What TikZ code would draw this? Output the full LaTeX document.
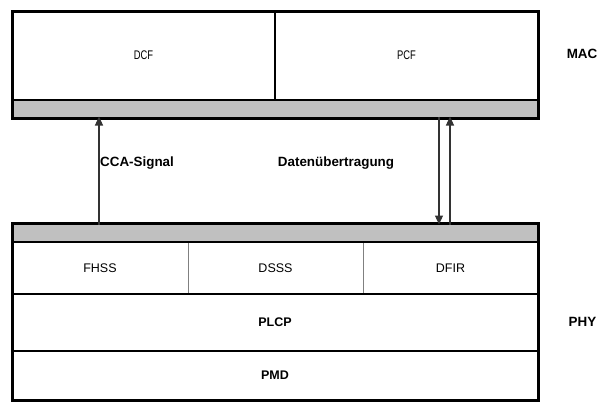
\documentclass[tikz,border=0pt]{standalone}
\usepackage{fontspec}
\setmainfont{Liberation Sans}
\usetikzlibrary{arrows.meta}
\definecolor{bargray}{HTML}{C0C0C0}
\definecolor{divgray}{HTML}{808080}
\definecolor{arrgray}{HTML}{333333}
\tikzset{
  cell/.style={inner sep=0pt, outer sep=0pt, font=\fontsize{12.5}{14}\selectfont},
  bar/.style={inner sep=0pt, outer sep=0pt, fill=bargray, minimum width=526pt},
  lbl/.style={inner sep=0pt, font=\bfseries\fontsize{13.4}{15}\selectfont},
  frame/.style={line width=3pt},
  sep/.style={line width=2.5pt},
  thindiv/.style={line width=1pt, divgray},
  arr/.style={line width=1.1pt, arrgray, -{Triangle[width=8pt,length=9pt]}}
}
\begin{document}
\begin{tikzpicture}[x=1pt,y=-1pt]
\useasboundingbox (0,0) rectangle (599,402);
% MAC block
\node[cell, minimum width=263pt, minimum height=89pt] (dcf) at (143.5,55.5) {\scalebox{0.75}[1]{DCF}};
\node[cell, minimum width=263pt, minimum height=89pt] (pcf) at (406.5,55.5) {\scalebox{0.75}[1]{PCF}};
\node[bar, minimum height=18pt] (macbar) at (275,109) {};
\draw[sep] (macbar.north west) -- (macbar.north east);
\draw[line width=2pt] (dcf.north east) -- (dcf.south east);
\draw[frame] (12,11) rectangle (538,118);
% PHY block
\node[bar, minimum height=19pt] (phybar) at (275,232.5) {};
\node[cell, minimum width=176pt, minimum height=52pt] (fhss) at (100,268) {FHSS};
\node[cell, minimum width=175pt, minimum height=52pt] (dsss) at (275.5,268) {DSSS};
\node[cell, minimum width=175pt, minimum height=52pt] (dfir) at (450.5,268) {DFIR};
\node[cell, font=\bfseries\fontsize{12.5}{14}\selectfont, minimum width=526pt, minimum height=57pt] (plcp) at (275,322.5) {PLCP};
\node[cell, font=\bfseries\fontsize{12.5}{14}\selectfont, minimum width=526pt, minimum height=49pt] (pmd) at (275,375.5) {PMD};
\draw[thindiv] (fhss.north east) -- (fhss.south east);
\draw[thindiv] (dsss.north east) -- (dsss.south east);
\draw[sep] (phybar.south west) -- (phybar.south east);
\draw[sep] (plcp.north west) -- (plcp.north east);
\draw[sep] (pmd.north west) -- (pmd.north east);
\draw[frame] (12,223) rectangle (538,400);
% arrows
\coordinate (cca) at (99,170);
\coordinate (down) at (439,170);
\coordinate (up) at (450,170);
\draw[arr] ([yshift=-1.5pt]phybar.north -| cca) -- ([yshift=1.5pt]macbar.south -| cca);
\draw[arr] ([yshift=1.5pt]macbar.south -| down) -- ([yshift=-1.5pt]phybar.north -| down);
\draw[arr] ([yshift=-1.5pt]phybar.north -| up) -- ([yshift=1.5pt]macbar.south -| up);
% labels
\node[lbl, anchor=west] (ccalbl) at (100,163) {CCA-Signal};
\node[lbl] (datlbl) at (336,163) {Datenübertragung};
\node[lbl] (maclbl) at (582,54) {MAC};
\node[lbl] (phylbl) at (582.5,322) {PHY};
\end{tikzpicture}
\end{document}
